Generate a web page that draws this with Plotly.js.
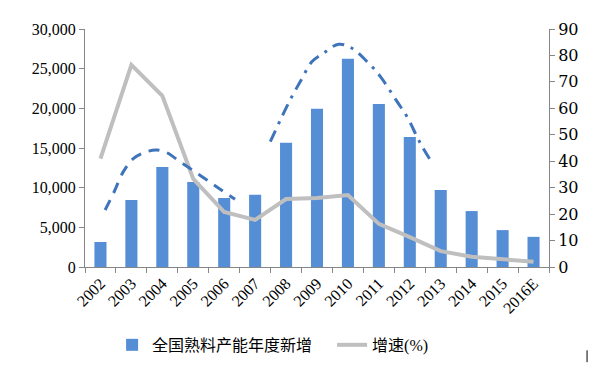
<!DOCTYPE html>
<html><head><meta charset="utf-8">
<script src="https://cdn.plot.ly/plotly-3.0.1.min.js"></script>
<style>
body{margin:0;background:#fff}#c{width:590px;height:365px}
</style>
</head><body><div id="c"></div>
<script>
const years = ["2002","2003","2004","2005","2006","2007","2008","2009","2010","2011","2012","2013","2014","2015","2016E"];
const newCapacity = [3150,8450,12600,10700,8700,9100,15650,19950,26250,20550,16400,9700,7050,4650,3800];
const growthRate = [41,76.4,64.7,33.3,20.8,17.8,25.7,26.1,27.2,16.3,11.3,6,3.9,2.8,2];
// trend arcs (category index, left-axis value)
const arc1X = [0.15,0.42,0.74,1.07,1.5,1.82,2.14,2.57,3.0,3.44,3.87,4.35];
const arc1Y = [7190,9290,12020,13700,14540,14750,14420,13280,12150,10970,9800,8540];
const arc2X = [5.49,6.13,6.46,6.84,7.21,7.70,8.13,8.62,9.05,9.59,9.91,10.34,10.72];
const arc2Y = [15800,21060,23370,25890,26950,28080,27580,25890,24000,20840,18950,15600,13150];

const serif = "Times New Roman";
function axisCommon(fam){ return {showline:true, linecolor:"#868686", ticks:"outside", ticklen:5, tickcolor:"#868686", showgrid:false, zeroline:false, automargin:false, tickfont:{family:fam,size:16,color:"#000"}}; }
const data = [
  {type:"bar", x:years, y:newCapacity, name:"全国熟料产能年度新增", marker:{color:"#558ED5"}},
  {type:"scatter", mode:"lines", x:years, y:growthRate, yaxis:"y2", name:"增速(%)", line:{color:"#BFBFBF", width:4}},
  {type:"scatter", mode:"lines", x:arc1X, y:arc1Y, xaxis:"x2", showlegend:false, hoverinfo:"skip", line:{color:"#3F74BA", width:3, dash:"11px,8px", shape:"spline"}},
  {type:"scatter", mode:"lines", x:arc2X, y:arc2Y, xaxis:"x2", showlegend:false, hoverinfo:"skip", line:{color:"#3F74BA", width:3, dash:"12px,7px,3px,7px", shape:"spline"}}
];
const layout = {
  width:590, height:365,
  margin:{l:85, r:41, t:29, b:98},
  paper_bgcolor:"#fff", plot_bgcolor:"#fff",
  bargap:0.61,
  font:{family:serif, size:16, color:"#000"},
  xaxis:Object.assign({type:"category", tickson:"boundaries", tickangle:-45}, axisCommon("Times New Roman")),
  xaxis2:{overlaying:"x", range:[-0.5,14.5], visible:false, showgrid:false, zeroline:false},
  yaxis:Object.assign({range:[0,30000], dtick:5000, tickformat:","}, axisCommon("Times New Roman")),
  yaxis2:Object.assign({overlaying:"y", side:"right", range:[0,90], dtick:10}, axisCommon("DejaVu Serif")),
  legend:{orientation:"h", xref:"container", yref:"container", x:0.19, xanchor:"left", y:0.055, yanchor:"middle", entrywidth:175, font:{family:"Times New Roman, Noto Sans CJK SC", size:16, color:"#000"}},
  shapes:[{type:"line", xref:"paper", yref:"paper", x0:1.082, x1:1.082, y0:-0.35, y1:-0.4, line:{color:"#000", width:1}}],
  showlegend:true
};
Plotly.newPlot("c", data, layout, {displayModeBar:false, staticPlot:true});
</script></body></html>
